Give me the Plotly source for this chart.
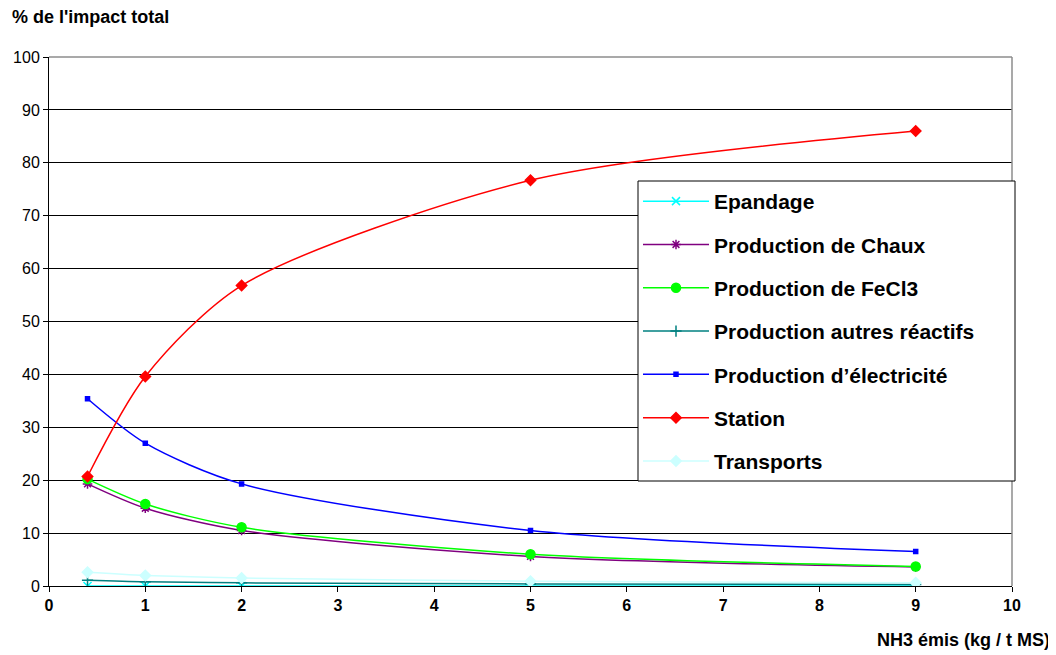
import plotly.graph_objects as go

x_vals = [0.4, 1, 2, 5, 9]

series_names = ["Epandage", "Production de Chaux", "Production de FeCl3",
                "Production autres réactifs", "Production d’électricité",
                "Station", "Transports"]
epandage = [0.0, 0.0, 0.0, 0.0, 0.0]
chaux = [19.3, 14.7, 10.5, 5.6, 3.6]
fecl3 = [20.2, 15.5, 11.1, 6.0, 3.7]
autres = [1.1, 0.8, 0.6, 0.4, 0.3]
electricite = [35.4, 27.0, 19.3, 10.5, 6.5]
station = [20.7, 39.6, 56.8, 76.7, 86.0]
transports = [2.6, 2.0, 1.5, 0.9, 0.6]

values = [epandage, chaux, fecl3, autres, electricite, station, transports]
colors = ["#00FFFF", "#800080", "#00FF00", "#008080", "#0000FF", "#FF0000", "#CCFFFF"]
symbols = ["x-thin-open", "asterisk-open", "circle", "cross-thin-open", "square", "diamond", "diamond"]
sizes = [8, 8, 9, 8, 4, 8, 8]

y_ticks = list(range(0, 101, 10))
x_ticks = list(range(0, 11))

# page body has an 8px margin; figure is sized to compensate
OFF = 8
W, H = 1056 - OFF, 655 - OFF
L, R, T, B = 49 - OFF, 44, 57 - OFF, 69
pw = W - L - R
ph = H - T - B

fig = go.Figure()
for i, (name, vals) in enumerate(zip(series_names, values)):
    fig.add_trace(go.Scatter(
        x=x_vals, y=vals, name=name, mode="lines+markers",
        line=dict(color=colors[i], width=1.5, shape="spline", smoothing=0.8),
        marker=dict(color=colors[i], symbol=symbols[i], size=sizes[i],
                    line=dict(color=colors[i], width=1.5)),
        legendgroup=f"g{i}",
    ))

def px2paper(px, py):
    return (px - OFF - L) / pw, (H - B - (py - OFF)) / ph

lx, ly = px2paper(638, 181)
bx0, by0 = px2paper(638, 481)
bx1, by1 = px2paper(1015, 181)
a1x, a1y = px2paper(10, 17)
a2x, a2y = px2paper(1052, 640)

fig.update_layout(
    width=W, height=H,
    margin=dict(l=L, r=R, t=T, b=B),
    paper_bgcolor="white", plot_bgcolor="white",
    font=dict(family="Liberation Sans, Arial", color="black", size=17),
    showlegend=True,
    legend=dict(x=lx, y=ly, xanchor="left", yanchor="top",
                bgcolor="rgba(0,0,0,0)", borderwidth=0,
                font=dict(size=21, family="Liberation Sans, Arial", weight="bold"),
                tracegroupgap=13, itemwidth=66),
    xaxis=dict(range=[0, 10], tickvals=x_ticks, showgrid=False, showline=True,
               linecolor="black", linewidth=1, ticks="outside", ticklen=5,
               tickcolor="black", zeroline=False, mirror=False, automargin=False,
               tickfont=dict(size=16, weight="bold")),
    yaxis=dict(range=[0, 100], tickvals=y_ticks, showgrid=True, gridcolor="black",
               gridwidth=1, showline=True, linecolor="black", linewidth=1,
               ticks="outside", ticklen=5, tickcolor="black", zeroline=False,
               automargin=False, tickfont=dict(size=16)),
    shapes=[
        dict(type="line", xref="paper", yref="paper", x0=0, x1=1, y0=1, y1=1,
             line=dict(color="#8c8c8c", width=1.5), layer="above"),
        dict(type="line", xref="paper", yref="paper", x0=1, x1=1, y0=0, y1=1,
             line=dict(color="#8c8c8c", width=1.5), layer="above"),
        dict(type="rect", xref="paper", yref="paper", x0=bx0, x1=bx1, y0=by0, y1=by1,
             line=dict(color="black", width=1), fillcolor="white", layer="above"),
    ],
    annotations=[
        dict(text="<b>% de l'impact total</b>", x=a1x, y=a1y, xref="paper", yref="paper",
             showarrow=False, xanchor="left", yanchor="middle", font=dict(size=18)),
        dict(text="<b>NH3 émis (kg / t MS)</b>", x=a2x, y=a2y, xref="paper", yref="paper",
             showarrow=False, xanchor="right", yanchor="middle", font=dict(size=18)),
    ],
)
fig.write_html("out.html")
